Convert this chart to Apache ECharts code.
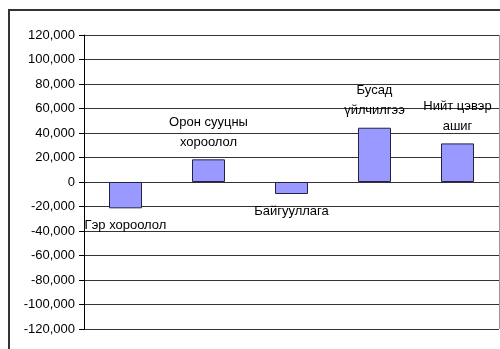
<!DOCTYPE html>
<html>
<head>
<meta charset="utf-8">
<script src="https://cdn.jsdelivr.net/npm/echarts@6/dist/echarts.min.js"></script>
<style>
  html, body { margin: 0; padding: 0; background: #fff; }
  #chart { width: 500px; height: 349px; }
</style>
</head>
<body>
<div id="chart"></div>
<script>
// Net profit components by segment
const categories = ['Гэр хороолол', 'Орон сууцны\nхороолол', 'Байгууллага', 'Бусад\nүйлчилгээ', 'Нийт цэвэр\nашиг'];
const values = [-21500, 18500, -9800, 44300, 31500];
const yMin = -120000;
const yMax = 120000;
const yStep = 20000;

const chart = echarts.init(document.getElementById('chart'), null, { renderer: 'canvas' });

const fontFamily = 'Liberation Sans, Arial, sans-serif';

chart.setOption({
  animation: false,
  backgroundColor: '#ffffff',
  grid: { left: 84, right: 1, top: 35, bottom: 20, containLabel: false },
  graphic: [
    {
      type: 'rect',
      shape: { x: 9, y: 10, width: 520, height: 360 },
      style: { fill: 'none', stroke: '#333', lineWidth: 2 },
      silent: true,
      z: -1
    },
    {
      type: 'line',
      shape: { x1: 499.5, y1: 35, x2: 499.5, y2: 329 },
      style: { stroke: '#999', lineWidth: 1 },
      silent: true
    }
  ],
  xAxis: {
    type: 'category',
    data: categories,
    axisLine: { show: false },
    axisTick: { show: false },
    axisLabel: { show: false },
    splitLine: { show: false }
  },
  yAxis: {
    type: 'value',
    min: yMin,
    max: yMax,
    interval: yStep,
    axisLine: { show: true, lineStyle: { color: '#000', width: 1 } },
    axisTick: { show: true, length: 5, lineStyle: { color: '#000' } },
    axisLabel: {
      color: '#000',
      fontSize: 13,
      fontFamily: fontFamily,
      margin: 9,
      formatter: v => v.toLocaleString('en-US')
    },
    splitLine: { show: true, lineStyle: { color: '#333', width: 1 } }
  },
  series: [{
    type: 'bar',
    data: values.map(v => ({
      value: v,
      label: { position: v >= 0 ? 'top' : 'bottom' }
    })),
    barWidth: 33,
    itemStyle: { color: '#9999ff', borderColor: '#222244', borderWidth: 1 },
    label: {
      show: true,
      formatter: p => p.name,
      color: '#000',
      fontSize: 13,
      fontFamily: fontFamily,
      lineHeight: 20,
      distance: 7
    }
  }]
});
</script>
</body>
</html>
